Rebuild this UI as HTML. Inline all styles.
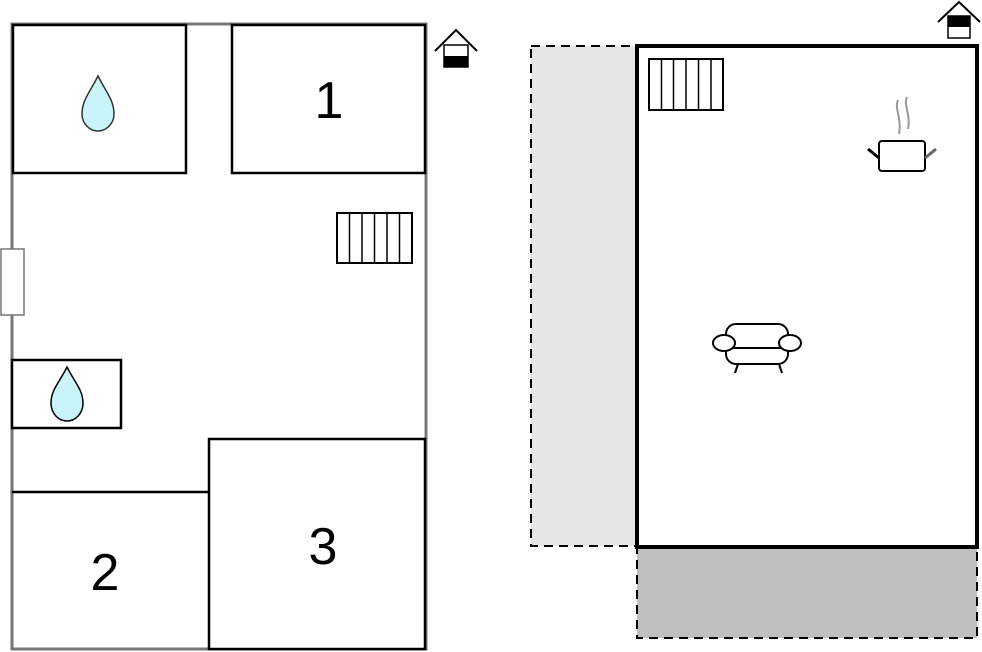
<!DOCTYPE html>
<html><head><style>body{margin:0;background:#fff}svg{display:block}</style></head><body>
<svg width="982" height="652" viewBox="0 0 982 652" xmlns="http://www.w3.org/2000/svg">
<!-- left plan -->
<rect x="12" y="24" width="414" height="625" fill="#fff" stroke="#777" stroke-width="3"/>
<rect x="13" y="25" width="173" height="148" fill="#fff" stroke="#000" stroke-width="2.5"/>
<rect x="232" y="25" width="193" height="148" fill="#fff" stroke="#000" stroke-width="2.5"/>
<text x="329" y="118" font-family="Liberation Sans, sans-serif" font-size="52" text-anchor="middle">1</text>
<path d="M98 76 C90 92 82 100 82 114 C82 124 90 131 98 131 C106 131 114 124 114 114 C114 100 106 92 98 76Z" fill="#c8f4fa" stroke="#333" stroke-width="1.5"/>
<rect x="337" y="213" width="75" height="50" fill="#fff" stroke="#000" stroke-width="2"/>
<g stroke="#000" stroke-width="1.5"><line x1="349.5" y1="213" x2="349.5" y2="263"/><line x1="362" y1="213" x2="362" y2="263"/><line x1="374.5" y1="213" x2="374.5" y2="263"/><line x1="387" y1="213" x2="387" y2="263"/><line x1="399.5" y1="213" x2="399.5" y2="263"/></g>
<rect x="1" y="249" width="23" height="66" fill="#fff" stroke="#777" stroke-width="1.5"/>
<rect x="12" y="360" width="109" height="68" fill="#fff" stroke="#000" stroke-width="2.5"/>
<path d="M67 367 C59 383 51 390 51 403 C51 413 58 421 67 421 C76 421 83 413 83 403 C83 390 75 383 67 367Z" fill="#c8f4fa" stroke="#000" stroke-width="1.5"/>
<line x1="12" y1="492" x2="209" y2="492" stroke="#000" stroke-width="2.5"/>
<rect x="209" y="439" width="216" height="210" fill="#fff" stroke="#000" stroke-width="2.5"/>
<text x="105" y="590" font-family="Liberation Sans, sans-serif" font-size="52" text-anchor="middle">2</text>
<text x="323" y="564" font-family="Liberation Sans, sans-serif" font-size="52" text-anchor="middle">3</text>
<!-- house icon left -->
<polyline points="435,51 456,30 477,51" fill="none" stroke="#000" stroke-width="2"/>
<rect x="444" y="45" width="24" height="22" fill="#fff" stroke="#000" stroke-width="1.5"/>
<rect x="444" y="56" width="24" height="11" fill="#000"/>
<!-- right plan -->
<rect x="531" y="46" width="106" height="500" fill="#e6e6e6" stroke="#000" stroke-width="2" stroke-dasharray="9,6"/>
<rect x="637" y="547" width="340" height="91" fill="#bfbfbf" stroke="#000" stroke-width="2" stroke-dasharray="9,6"/>
<rect x="637" y="46" width="340" height="501" fill="#fff" stroke="#000" stroke-width="4"/>
<rect x="649" y="59" width="74" height="51" fill="#fff" stroke="#000" stroke-width="2"/>
<g stroke="#000" stroke-width="1.5"><line x1="661.5" y1="59" x2="661.5" y2="110"/><line x1="673.5" y1="59" x2="673.5" y2="110"/><line x1="686" y1="59" x2="686" y2="110"/><line x1="698.5" y1="59" x2="698.5" y2="110"/><line x1="711" y1="59" x2="711" y2="110"/></g>
<!-- pot -->
<path d="M898 100 C894 108 902 118 899 134 M907 97 C903 105 911 114 908 129" fill="none" stroke="#999" stroke-width="2"/>
<rect x="879" y="141" width="46" height="30" rx="3" fill="#fff" stroke="#000" stroke-width="2"/>
<line x1="868" y1="149" x2="879" y2="158" stroke="#000" stroke-width="3"/>
<line x1="936" y1="149" x2="925" y2="158" stroke="#666" stroke-width="3"/>
<!-- sofa -->
<rect x="726" y="324" width="62" height="40" rx="10" fill="#fff" stroke="#000" stroke-width="2"/>
<line x1="733" y1="348" x2="781" y2="348" stroke="#000" stroke-width="2"/>
<ellipse cx="724" cy="343" rx="11" ry="8" fill="#fff" stroke="#000" stroke-width="2"/>
<ellipse cx="790" cy="343" rx="11" ry="8" fill="#fff" stroke="#000" stroke-width="2"/>
<line x1="738" y1="364" x2="735" y2="373" stroke="#000" stroke-width="2"/>
<line x1="779" y1="364" x2="782" y2="373" stroke="#000" stroke-width="2"/>
<!-- house icon right -->
<polyline points="938,22 959,2 980,22" fill="none" stroke="#000" stroke-width="2"/>
<rect x="948" y="16" width="22" height="22" fill="#fff" stroke="#000" stroke-width="1.5"/>
<rect x="948" y="16" width="22" height="11" fill="#000"/>
</svg>
</body></html>
